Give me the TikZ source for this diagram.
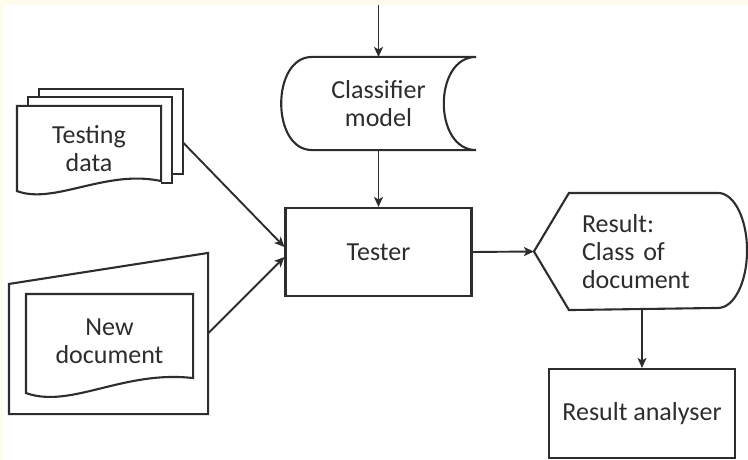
\documentclass[tikz,border=0pt]{standalone}
\usepackage{fontspec}
\setmainfont{Carlito}
\usetikzlibrary{arrows.meta,calc}
\definecolor{cream}{RGB}{254,252,236}
\definecolor{ink}{RGB}{45,45,45}

\begin{document}
\begin{tikzpicture}[
    x=1pt, y=-1pt, color=ink, line width=2.1pt,
    every node/.style={font=\fontsize{26}{28}\selectfont, inner sep=0pt},
    box/.style={rectangle, draw, minimum width=186pt, minimum height=88pt, align=center},
    sheet/.style={rectangle, minimum width=142pt, minimum height=83pt, align=center},
    flow/.style={-{Stealth[length=10pt, width=9pt, inset=2.5pt]}, line width=1.9pt}
]
\fill[cream] (0,0) rectangle (748,460);
\fill[white] (3,5) rectangle (748,460);
\useasboundingbox (0,0) rectangle (748,460);

% classifier model (stored data)
\coordinate (feed) at (378.5,5);
\node[minimum width=193pt, minimum height=91pt, align=center] (model) at (378.5,103.5) {Classifier\\model};
\draw ([xshift=31pt]model.north west) -- (model.north east)
      .. controls +(-43,0) and +(-43,0) .. (model.south east)
      -- ([xshift=31pt]model.south west)
      .. controls +(-41,0) and +(-41,0) .. ([xshift=31pt]model.north west);

% tester
\node[box] (tester) at (378.5,252) {Tester};

% result (display)
\node[minimum width=211pt, minimum height=115pt, text width=117pt, align=left] (result) at (640.5,251.5) {Result:\\Class of\\document};
\draw (result.west) -- ([xshift=35pt]result.north west) -- ([xshift=-29pt]result.north east)
      arc[start angle=90, end angle=-90, x radius=29pt, y radius=57.5pt]
      -- ([xshift=35pt]result.south west) -- cycle;

% result analyser
\node[box, minimum height=89pt] (analyser) at (642,413.5) {Result analyser};

% testing data (multiple documents)
\node[sheet] (tback) at (111,131.5) {};
\node[sheet] (tmid) at (100,140) {};
\node[sheet] (tdata) at (89,148.5) {Testing\\data};
\draw (tback.west |- tmid.north) -- (tback.north west) -- (tback.north east)
      -- (tback.south east) -- (tback.south east -| tmid.east);
\draw (tmid.west |- tdata.north) -- (tmid.north west) -- (tmid.north east)
      -- (tmid.south east) -- (tmid.south east -| tdata.east);
\draw (tdata.north west) -- (tdata.south west)
      .. controls +(37,14) and +(-55,-12) .. ([yshift=10pt]tdata.south east)
      -- (tdata.north east) -- cycle;

% new document (manual input)
\node[minimum width=197pt, minimum height=159pt] (newin) at (108.5,333.5) {};
\draw (newin.south west) -- ([yshift=-31pt]newin.north west) -- (newin.north east)
      -- (newin.south east) -- cycle;
\node[minimum width=165pt, minimum height=92pt, align=center] (newdoc) at (109.5,341) {New\\document};
\draw (newdoc.north west) -- ([yshift=-5pt]newdoc.south west)
      .. controls +(45,16) and +(-70,-8) .. ([yshift=10pt]newdoc.south east)
      -- (newdoc.north east) -- cycle;

% connectors
\draw[flow] (feed) -- (model.north);
\draw[flow] (model.south) -- (tester.north);
\draw[flow] ([yshift=-11pt]tback.east) -- ([yshift=5pt]tester.west);
\draw[flow] (newin.east) -- ([yshift=-5pt]tester.west);
\draw[flow] (tester.east) -- (result.west);
\draw[flow] (result.south -| analyser.north) -- (analyser.north);
\end{tikzpicture}
\end{document}
